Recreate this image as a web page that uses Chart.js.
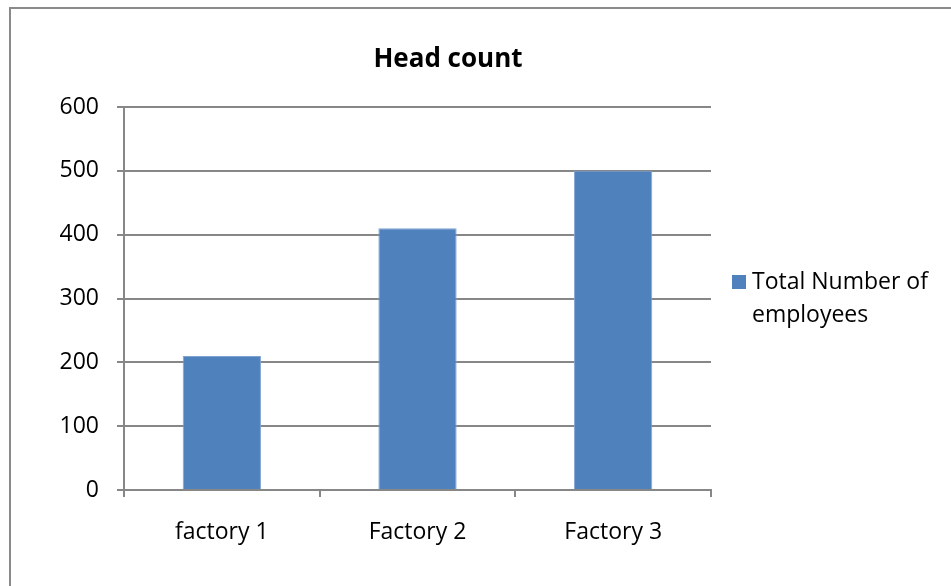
<!DOCTYPE html>
<html>
<head>
<meta charset="utf-8">
<script src="https://cdn.jsdelivr.net/npm/chart.js@4.4.1/dist/chart.umd.min.js"></script>
<style>
  html, body { margin: 0; padding: 0; background: #fff; }
  #wrap { position: relative; width: 951px; height: 586px; overflow: hidden; }
  #frame { position: absolute; left: 9px; top: 7px; width: 960px; height: 600px;
           border-left: 2px solid #8a8a8a; border-top: 2px solid #8a8a8a; pointer-events: none; }
  canvas { position: absolute; left: 0; top: 0; }
</style>
</head>
<body>
<div id="wrap">
  <canvas id="canvas_head" width="951" height="586"></canvas>
  <div id="frame"></div>
</div>
<script>
var factories = ["factory 1", "Factory 2", "Factory 3"];
var employees = [210, 410, 500];
var seriesName = ["Total Number of", "employees"];
var yTicks = [0, 100, 200, 300, 400, 500, 600];

var fontFamily = "'Open Sans', 'Noto Sans', sans-serif";
var lineGray = "#878787";

// title + legend drawn at fixed spots like the excel chart
var headerPlugin = {
    id: 'header',
    afterDraw: function(chart) {
        var ctx = chart.ctx;
        ctx.save();
        ctx.fillStyle = "#000";
        ctx.font = "bold 26px " + fontFamily;
        ctx.textAlign = "center";
        ctx.textBaseline = "middle";
        ctx.fillText("Head count", 448, 60);

        ctx.fillStyle = "#4F81BD";
        ctx.fillRect(732, 275, 14, 14);
        ctx.fillStyle = "#000";
        ctx.font = "23px " + fontFamily;
        ctx.textAlign = "left";
        ctx.fillText(seriesName[0], 752, 282);
        ctx.fillText(seriesName[1], 752, 315);
        ctx.restore();
    }
};

var ctx = document.getElementById("canvas_head");
var headChart = new Chart(ctx, {
    type: 'bar',
    data: {
        labels: factories,
        datasets: [{
            label: seriesName.join(" "),
            data: employees,
            backgroundColor: "#4F81BD",
            borderColor: "#7FA3D2",
            borderWidth: 1,
            barPercentage: 0.4,
            categoryPercentage: 1.0
        }]
    },
    options: {
        responsive: false,
        animation: false,
        layout: { padding: { left: 0, right: 240, top: 107, bottom: 0 } },
        plugins: {
            legend: { display: false },
            title: { display: false },
            tooltip: { enabled: false }
        },
        scales: {
            x: {
                offset: true,
                grid: {
                    offset: true,
                    drawOnChartArea: false,
                    drawTicks: true,
                    tickLength: 7,
                    color: lineGray,
                    lineWidth: 2
                },
                border: { color: lineGray, width: 2 },
                ticks: {
                    padding: 22,
                    color: "#000",
                    font: { family: fontFamily, size: 23 }
                },
                afterFit: function(scale) { scale.height = 96; }
            },
            y: {
                min: 0,
                max: 600,
                afterBuildTicks: function(scale) {
                    scale.ticks = yTicks.map(function(v) { return { value: v }; });
                },
                grid: {
                    color: lineGray,
                    lineWidth: 2,
                    tickLength: 7
                },
                border: { color: lineGray, width: 2 },
                ticks: {
                    padding: 18,
                    color: "#000",
                    font: { family: fontFamily, size: 23 }
                },
                afterFit: function(scale) { scale.width = 124; }
            }
        }
    },
    plugins: [headerPlugin]
});
</script>
</body>
</html>
